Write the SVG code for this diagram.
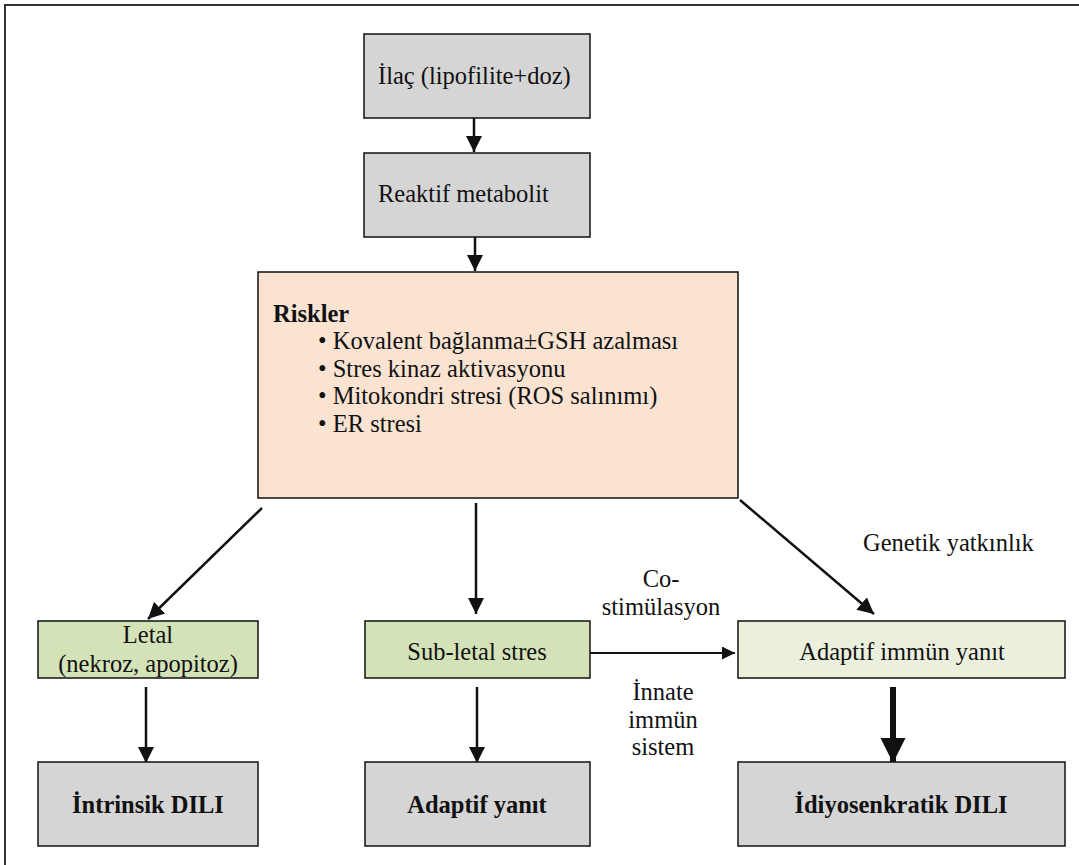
<svg xmlns="http://www.w3.org/2000/svg" width="1079" height="865" viewBox="0 0 1079 865">
  <style>
    .box { stroke: #111; stroke-width: 1.5; }
    .grey { fill: #d5d5d5; }
    .peach { fill: #fbe3d2; }
    .green { fill: #d4e2b8; }
    .pale { fill: #ebf0dd; }
    text { font-family: "Liberation Serif", serif; font-size: 24.5px; fill: #111; }
    .b { font-weight: bold; }
    .c { text-anchor: middle; }
    .edge { stroke: #111; stroke-width: 2.5; fill: none; marker-end: url(#head); }
    .thick { stroke: #111; stroke-width: 6; fill: none; marker-end: url(#bighead); }
    .thin { stroke: #111; stroke-width: 2; fill: none; marker-end: url(#head); }
  </style>
  <defs>
    <marker id="head" viewBox="0 0 10 10" refX="10" refY="5" markerWidth="6.5" markerHeight="6.5" markerUnits="strokeWidth" orient="auto">
      <path d="M0,0 L10,5 L0,10 Z" fill="#111"/>
    </marker>
    <marker id="bighead" viewBox="0 0 10 10" refX="10" refY="5" markerWidth="4.2" markerHeight="4.2" markerUnits="strokeWidth" orient="auto">
      <path d="M0,0 L10,5 L0,10 Z" fill="#111"/>
    </marker>
  </defs>

  <rect width="1079" height="865" fill="#fff"/>
  <!-- outer frame -->
  <rect x="5" y="5" width="1100" height="900" fill="none" stroke="#333" stroke-width="2"/>

  <g id="connectors">
    <line class="edge" x1="474" y1="118" x2="474" y2="152"/>
    <line class="edge" x1="475" y1="237" x2="475" y2="271"/>
    <line class="edge" x1="262" y1="508" x2="148" y2="619"/>
    <line class="edge" x1="476" y1="503" x2="476" y2="614"/>
    <line class="edge" x1="740" y1="500" x2="874" y2="614"/>
    <line class="thin" x1="590" y1="653" x2="735" y2="653"/>
    <line class="edge" x1="146" y1="687" x2="146" y2="763"/>
    <line class="edge" x1="477" y1="687" x2="477" y2="763"/>
    <line class="thick" x1="893" y1="687" x2="893" y2="763"/>
  </g>

  <g id="ilac">
    <rect class="box grey" x="364" y="34" width="226" height="84"/>
    <text x="378" y="84">İlaç (lipofilite+doz)</text>
  </g>
  <g id="reaktif">
    <rect class="box grey" x="364" y="153" width="226" height="84"/>
    <text x="378" y="202">Reaktif metabolit</text>
  </g>
  <g id="riskler">
    <rect class="box peach" x="258" y="272" width="480" height="226"/>
    <text class="b" x="273" y="322">Riskler</text>
    <text x="318" y="349">• Kovalent bağlanma±GSH azalması</text>
    <text x="318" y="377">• Stres kinaz aktivasyonu</text>
    <text x="318" y="404">• Mitokondri stresi (ROS salınımı)</text>
    <text x="318" y="432">• ER stresi</text>
  </g>
  <g id="letal">
    <rect class="box green" x="38" y="621" width="220" height="57"/>
    <text class="c" x="148" y="643">Letal</text>
    <text class="c" x="148" y="672">(nekroz, apopitoz)</text>
  </g>
  <g id="subletal">
    <rect class="box green" x="365" y="621" width="225" height="57"/>
    <text class="c" x="477" y="660">Sub-letal stres</text>
  </g>
  <g id="adaptif-immun">
    <rect class="box pale" x="738" y="621" width="327" height="57"/>
    <text class="c" x="902" y="660">Adaptif immün yanıt</text>
  </g>
  <g id="intrinsik">
    <rect class="box grey" x="38" y="762" width="220" height="84"/>
    <text class="c b" x="148" y="813">İntrinsik DILI</text>
  </g>
  <g id="adaptif-yanit">
    <rect class="box grey" x="365" y="762" width="225" height="84"/>
    <text class="c b" x="477" y="813">Adaptif yanıt</text>
  </g>
  <g id="idiyosenkratik">
    <rect class="box grey" x="738" y="762" width="327" height="84"/>
    <text class="c b" x="901" y="813">İdiyosenkratik DILI</text>
  </g>

  <g id="labels">
    <text x="863" y="551">Genetik yatkınlık</text>
    <text class="c" x="661" y="587">Co-</text>
    <text class="c" x="661" y="615">stimülasyon</text>
    <text class="c" x="663" y="700">İnnate</text>
    <text class="c" x="663" y="728">immün</text>
    <text class="c" x="663" y="755">sistem</text>
  </g>
</svg>
